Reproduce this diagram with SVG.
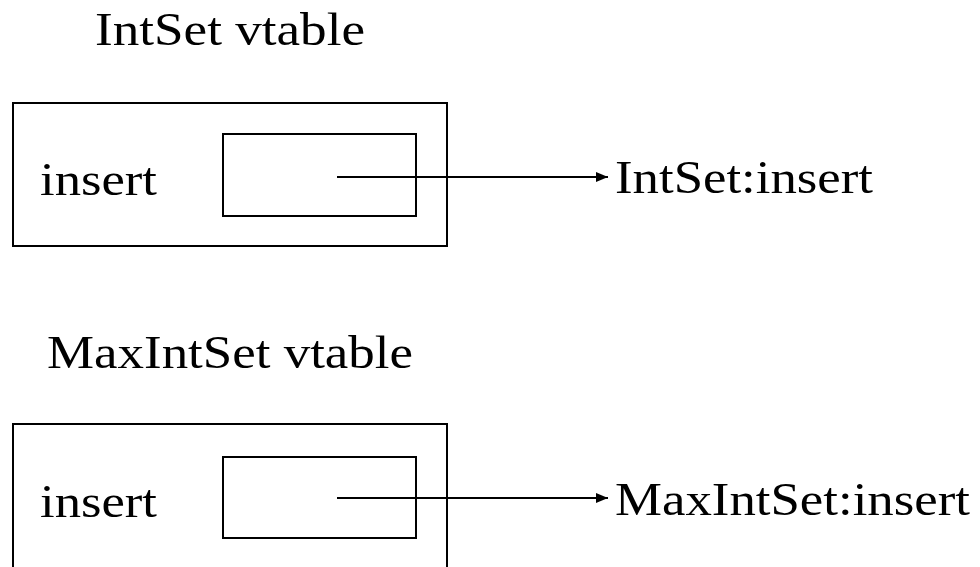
<svg xmlns="http://www.w3.org/2000/svg" width="980" height="567" viewBox="0 0 980 567">
<style>
text{font-family:"Liberation Serif","Times New Roman",serif;font-size:46px;fill:#000}
.box{fill:none;stroke:#000;stroke-width:2}
.edge{stroke:#000;stroke-width:2;fill:none}
</style>
<defs>
<marker id="ah" markerWidth="12" markerHeight="10" refX="12" refY="5" orient="auto" markerUnits="userSpaceOnUse">
<path d="M0,0 L12,5 L0,10 z" fill="#000"/>
</marker>
</defs>
<rect width="980" height="567" fill="#fff"/>
<g id="intset-vtable">
<text x="95" y="45" textLength="270" lengthAdjust="spacingAndGlyphs">IntSet vtable</text>
<rect class="box" x="13" y="103" width="434" height="143"/>
<text x="40" y="195" textLength="117" lengthAdjust="spacingAndGlyphs">insert</text>
<rect class="box" x="223" y="134" width="193" height="82"/>
</g>
<g id="intset-insert">
<text x="615" y="193" textLength="258" lengthAdjust="spacingAndGlyphs">IntSet:insert</text>
</g>
<g id="maxintset-vtable">
<text x="47" y="368" textLength="366" lengthAdjust="spacingAndGlyphs">MaxIntSet vtable</text>
<rect class="box" x="13" y="424" width="434" height="160"/>
<text x="40" y="517" textLength="117" lengthAdjust="spacingAndGlyphs">insert</text>
<rect class="box" x="223" y="457" width="193" height="81"/>
</g>
<g id="maxintset-insert">
<text x="615" y="515" textLength="355" lengthAdjust="spacingAndGlyphs">MaxIntSet:insert</text>
</g>
<g id="connectors">
<line class="edge" x1="337" y1="177" x2="608" y2="177" marker-end="url(#ah)"/>
<line class="edge" x1="337" y1="498" x2="608" y2="498" marker-end="url(#ah)"/>
</g>
</svg>
